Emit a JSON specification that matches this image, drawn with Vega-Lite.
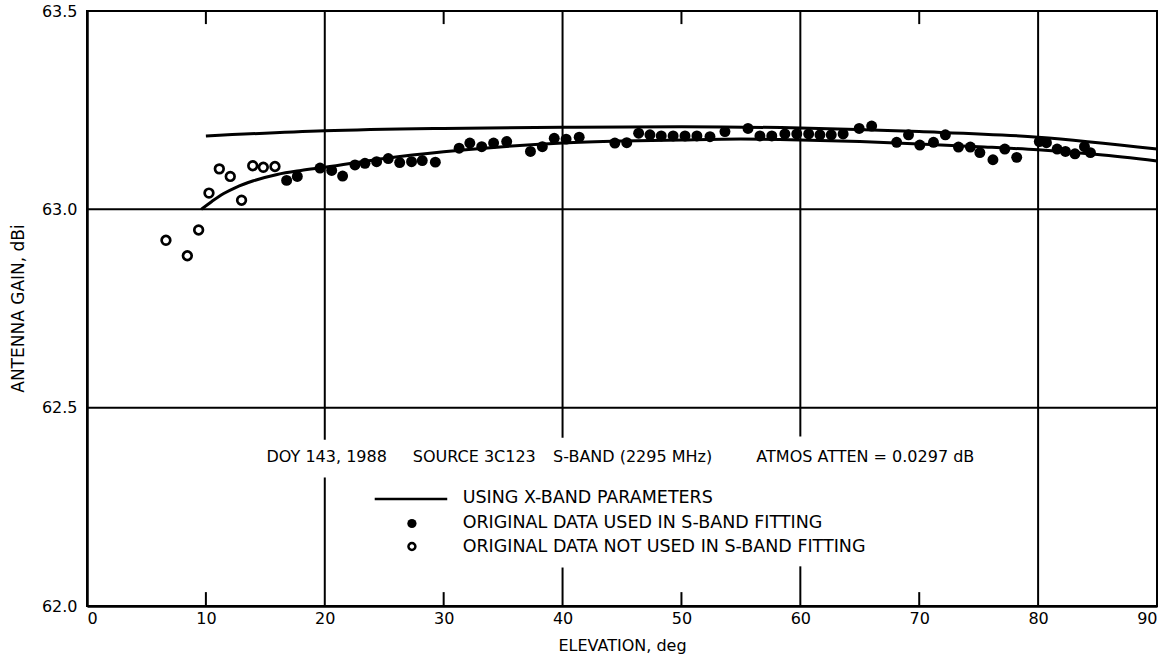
{
  "$schema": "https://vega.github.io/schema/vega-lite/v6.json",
  "autosize": {"type": "none"},
  "padding": {"left": 87, "top": 11, "right": 11, "bottom": 57},
  "width": 1070,
  "height": 595,
  "background": "white",
  "config": {
    "view": {"stroke": "black", "strokeWidth": 2},
    "font": "DejaVu Sans"
  },
  "datasets": {
    "obs": [
      {"elev": 6.64, "gain": 62.922, "set": "unused"},
      {"elev": 8.44, "gain": 62.883, "set": "unused"},
      {"elev": 9.39, "gain": 62.948, "set": "unused"},
      {"elev": 10.26, "gain": 63.041, "set": "unused"},
      {"elev": 11.13, "gain": 63.102, "set": "unused"},
      {"elev": 12.05, "gain": 63.083, "set": "unused"},
      {"elev": 13.0, "gain": 63.023, "set": "unused"},
      {"elev": 13.94, "gain": 63.11, "set": "unused"},
      {"elev": 14.83, "gain": 63.106, "set": "unused"},
      {"elev": 15.81, "gain": 63.108, "set": "unused"},
      {"elev": 16.79, "gain": 63.073, "set": "used"},
      {"elev": 17.69, "gain": 63.083, "set": "used"},
      {"elev": 19.6, "gain": 63.104, "set": "used"},
      {"elev": 20.58, "gain": 63.098, "set": "used"},
      {"elev": 21.5, "gain": 63.084, "set": "used"},
      {"elev": 22.54, "gain": 63.112, "set": "used"},
      {"elev": 23.38, "gain": 63.116, "set": "used"},
      {"elev": 24.36, "gain": 63.12, "set": "used"},
      {"elev": 25.34, "gain": 63.128, "set": "used"},
      {"elev": 26.3, "gain": 63.118, "set": "used"},
      {"elev": 27.3, "gain": 63.12, "set": "used"},
      {"elev": 28.2, "gain": 63.123, "set": "used"},
      {"elev": 29.3, "gain": 63.119, "set": "used"},
      {"elev": 31.3, "gain": 63.154, "set": "used"},
      {"elev": 32.2, "gain": 63.167, "set": "used"},
      {"elev": 33.2, "gain": 63.158, "set": "used"},
      {"elev": 34.2, "gain": 63.167, "set": "used"},
      {"elev": 35.3, "gain": 63.171, "set": "used"},
      {"elev": 37.3, "gain": 63.146, "set": "used"},
      {"elev": 38.3, "gain": 63.158, "set": "used"},
      {"elev": 39.3, "gain": 63.179, "set": "used"},
      {"elev": 40.3, "gain": 63.177, "set": "used"},
      {"elev": 41.4, "gain": 63.182, "set": "used"},
      {"elev": 44.4, "gain": 63.167, "set": "used"},
      {"elev": 45.4, "gain": 63.168, "set": "used"},
      {"elev": 46.4, "gain": 63.192, "set": "used"},
      {"elev": 47.35, "gain": 63.188, "set": "used"},
      {"elev": 48.3, "gain": 63.185, "set": "used"},
      {"elev": 49.3, "gain": 63.185, "set": "used"},
      {"elev": 50.3, "gain": 63.185, "set": "used"},
      {"elev": 51.3, "gain": 63.185, "set": "used"},
      {"elev": 52.4, "gain": 63.183, "set": "used"},
      {"elev": 53.66, "gain": 63.196, "set": "used"},
      {"elev": 55.6, "gain": 63.204, "set": "used"},
      {"elev": 56.6, "gain": 63.185, "set": "used"},
      {"elev": 57.6, "gain": 63.185, "set": "used"},
      {"elev": 58.7, "gain": 63.19, "set": "used"},
      {"elev": 59.7, "gain": 63.19, "set": "used"},
      {"elev": 60.7, "gain": 63.19, "set": "used"},
      {"elev": 61.65, "gain": 63.188, "set": "used"},
      {"elev": 62.6, "gain": 63.188, "set": "used"},
      {"elev": 63.6, "gain": 63.19, "set": "used"},
      {"elev": 64.95, "gain": 63.204, "set": "used"},
      {"elev": 66.0, "gain": 63.21, "set": "used"},
      {"elev": 68.1, "gain": 63.169, "set": "used"},
      {"elev": 69.1, "gain": 63.188, "set": "used"},
      {"elev": 70.05, "gain": 63.162, "set": "used"},
      {"elev": 71.2, "gain": 63.169, "set": "used"},
      {"elev": 72.2, "gain": 63.188, "set": "used"},
      {"elev": 73.3, "gain": 63.157, "set": "used"},
      {"elev": 74.3, "gain": 63.157, "set": "used"},
      {"elev": 75.1, "gain": 63.143, "set": "used"},
      {"elev": 76.2, "gain": 63.125, "set": "used"},
      {"elev": 77.2, "gain": 63.152, "set": "used"},
      {"elev": 78.2, "gain": 63.131, "set": "used"},
      {"elev": 80.1, "gain": 63.171, "set": "used"},
      {"elev": 80.7, "gain": 63.168, "set": "used"},
      {"elev": 81.6, "gain": 63.152, "set": "used"},
      {"elev": 82.3, "gain": 63.146, "set": "used"},
      {"elev": 83.1, "gain": 63.14, "set": "used"},
      {"elev": 83.9, "gain": 63.158, "set": "used"},
      {"elev": 84.4, "gain": 63.143, "set": "used"}
    ],
    "curves": [
      {"elev": 9.6, "gain": 63.0, "curve": "S-band fit"},
      {"elev": 10.5, "gain": 63.02, "curve": "S-band fit"},
      {"elev": 11.5, "gain": 63.04, "curve": "S-band fit"},
      {"elev": 12.5, "gain": 63.055, "curve": "S-band fit"},
      {"elev": 14, "gain": 63.072, "curve": "S-band fit"},
      {"elev": 16, "gain": 63.088, "curve": "S-band fit"},
      {"elev": 18, "gain": 63.098, "curve": "S-band fit"},
      {"elev": 20, "gain": 63.106, "curve": "S-band fit"},
      {"elev": 25, "gain": 63.128, "curve": "S-band fit"},
      {"elev": 30, "gain": 63.145, "curve": "S-band fit"},
      {"elev": 35, "gain": 63.158, "curve": "S-band fit"},
      {"elev": 40, "gain": 63.167, "curve": "S-band fit"},
      {"elev": 45, "gain": 63.172, "curve": "S-band fit"},
      {"elev": 50, "gain": 63.175, "curve": "S-band fit"},
      {"elev": 55, "gain": 63.177, "curve": "S-band fit"},
      {"elev": 60, "gain": 63.175, "curve": "S-band fit"},
      {"elev": 65, "gain": 63.171, "curve": "S-band fit"},
      {"elev": 70, "gain": 63.165, "curve": "S-band fit"},
      {"elev": 75, "gain": 63.158, "curve": "S-band fit"},
      {"elev": 80, "gain": 63.15, "curve": "S-band fit"},
      {"elev": 85, "gain": 63.138, "curve": "S-band fit"},
      {"elev": 90, "gain": 63.122, "curve": "S-band fit"},
      {"elev": 10, "gain": 63.185, "curve": "X-band parameters"},
      {"elev": 20, "gain": 63.198, "curve": "X-band parameters"},
      {"elev": 30, "gain": 63.204, "curve": "X-band parameters"},
      {"elev": 40, "gain": 63.207, "curve": "X-band parameters"},
      {"elev": 50, "gain": 63.208, "curve": "X-band parameters"},
      {"elev": 60, "gain": 63.205, "curve": "X-band parameters"},
      {"elev": 70, "gain": 63.196, "curve": "X-band parameters"},
      {"elev": 80, "gain": 63.182, "curve": "X-band parameters"},
      {"elev": 90, "gain": 63.152, "curve": "X-band parameters"}
    ],
    "vgrid": [
      {"x": 20, "y": 62.0, "y2": 62.324},
      {"x": 20, "y": 62.419, "y2": 63.5},
      {"x": 40, "y": 62.0, "y2": 62.097},
      {"x": 40, "y": 62.424, "y2": 63.5},
      {"x": 60, "y": 62.0, "y2": 62.1},
      {"x": 60, "y": 62.427, "y2": 63.5},
      {"x": 80, "y": 62.0, "y2": 63.5},
      {"x": 10, "y": 62.0, "y2": 62.035},
      {"x": 30, "y": 62.0, "y2": 62.035},
      {"x": 50, "y": 62.0, "y2": 62.035},
      {"x": 70, "y": 62.0, "y2": 62.035},
      {"x": 10, "y": 63.467, "y2": 63.5},
      {"x": 30, "y": 63.467, "y2": 63.5},
      {"x": 50, "y": 63.467, "y2": 63.5},
      {"x": 70, "y": 63.467, "y2": 63.5}
    ],
    "hgrid": [{"y": 63.0}, {"y": 62.5}],
    "notes": [
      {"x": 15.1, "y": 62.375, "text": "DOY 143, 1988"},
      {"x": 27.4, "y": 62.375, "text": "SOURCE 3C123"},
      {"x": 39.2, "y": 62.375, "text": "S-BAND (2295 MHz)"},
      {"x": 56.3, "y": 62.375, "text": "ATMOS ATTEN = 0.0297 dB"}
    ],
    "legtext": [
      {"x": 31.6, "y": 62.273, "text": "USING X-BAND PARAMETERS"},
      {"x": 31.6, "y": 62.208, "text": "ORIGINAL DATA USED IN S-BAND FITTING"},
      {"x": 31.6, "y": 62.15, "text": "ORIGINAL DATA NOT USED IN S-BAND FITTING"}
    ],
    "legline": [{"x": 24.2, "x2": 30.3, "y": 62.27}],
    "legpts": [
      {"x": 27.33, "y": 62.208, "set": "used"},
      {"x": 27.33, "y": 62.15, "set": "unused"}
    ]
  },
  "layer": [
    {
      "data": {"name": "hgrid"},
      "mark": {"type": "rule", "color": "black", "strokeWidth": 2},
      "encoding": {
        "y": {"field": "y", "type": "quantitative", "scale": {"domain": [62, 63.5], "nice": false, "zero": false},
          "axis": {"values": [62.0, 62.5, 63.0, 63.5], "format": ".1f", "ticks": false, "grid": false, "domain": true, "domainColor": "black", "domainWidth": 2.5,
            "labelFontSize": 16, "labelColor": "black", "labelPadding": 10, "labelFont": "DejaVu Sans",
            "title": "ANTENNA GAIN, dBi", "titleFontSize": 17, "titleFontWeight": "normal", "titleColor": "black", "titleFont": "DejaVu Sans",
            "titleX": -69, "titleY": 297, "titleAngle": -90, "titleAlign": "center", "titleBaseline": "middle"}}
      }
    },
    {
      "data": {"name": "vgrid"},
      "mark": {"type": "rule", "color": "black", "strokeWidth": 2},
      "encoding": {
        "x": {"field": "x", "type": "quantitative", "scale": {"domain": [0, 90], "nice": false},
          "axis": {"values": [0, 10, 20, 30, 40, 50, 60, 70, 80, 90], "ticks": false, "grid": false, "domain": true, "domainColor": "black", "domainWidth": 2.5,
            "labelFontSize": 16, "labelColor": "black", "labelPadding": 4, "labelFont": "DejaVu Sans",
            "title": "ELEVATION, deg", "titleFontSize": 16, "titleFontWeight": "normal", "titleColor": "black", "titleFont": "DejaVu Sans",
            "titleX": 535, "titleY": 39, "titleAlign": "center", "titleBaseline": "middle"}},
        "y": {"field": "y", "type": "quantitative"},
        "y2": {"field": "y2"}
      }
    },
    {
      "data": {"name": "curves"},
      "mark": {"type": "line", "color": "black", "strokeWidth": 3, "interpolate": "monotone"},
      "encoding": {
        "x": {"field": "elev", "type": "quantitative"},
        "y": {"field": "gain", "type": "quantitative"},
        "detail": {"field": "curve"}
      }
    },
    {
      "data": {"name": "obs"},
      "transform": [{"filter": "datum.set === 'used'"}],
      "mark": {"type": "point", "shape": "circle", "filled": true, "fill": "black", "opacity": 1, "size": 120},
      "encoding": {
        "x": {"field": "elev", "type": "quantitative"},
        "y": {"field": "gain", "type": "quantitative"}
      }
    },
    {
      "data": {"name": "obs"},
      "transform": [{"filter": "datum.set === 'unused'"}],
      "mark": {"type": "point", "shape": "circle", "filled": false, "stroke": "black", "fill": "white", "fillOpacity": 1, "strokeWidth": 2.7, "opacity": 1, "size": 75},
      "encoding": {
        "x": {"field": "elev", "type": "quantitative"},
        "y": {"field": "gain", "type": "quantitative"}
      }
    },
    {
      "data": {"name": "notes"},
      "mark": {"type": "text", "align": "left", "baseline": "middle", "font": "DejaVu Sans", "fontSize": 16, "color": "black"},
      "encoding": {
        "x": {"field": "x", "type": "quantitative"},
        "y": {"field": "y", "type": "quantitative"},
        "text": {"field": "text"}
      }
    },
    {
      "data": {"name": "legtext"},
      "mark": {"type": "text", "align": "left", "baseline": "middle", "font": "DejaVu Sans", "fontSize": 17.5, "color": "black"},
      "encoding": {
        "x": {"field": "x", "type": "quantitative"},
        "y": {"field": "y", "type": "quantitative"},
        "text": {"field": "text"}
      }
    },
    {
      "data": {"name": "legline"},
      "mark": {"type": "rule", "color": "black", "strokeWidth": 2.5},
      "encoding": {
        "x": {"field": "x", "type": "quantitative"},
        "x2": {"field": "x2"},
        "y": {"field": "y", "type": "quantitative"}
      }
    },
    {
      "data": {"name": "legpts"},
      "transform": [{"filter": "datum.set === 'used'"}],
      "mark": {"type": "point", "shape": "circle", "filled": true, "fill": "black", "opacity": 1, "size": 85},
      "encoding": {
        "x": {"field": "x", "type": "quantitative"},
        "y": {"field": "y", "type": "quantitative"}
      }
    },
    {
      "data": {"name": "legpts"},
      "transform": [{"filter": "datum.set === 'unused'"}],
      "mark": {"type": "point", "shape": "circle", "filled": false, "stroke": "black", "strokeWidth": 2.5, "opacity": 1, "size": 48},
      "encoding": {
        "x": {"field": "x", "type": "quantitative"},
        "y": {"field": "y", "type": "quantitative"}
      }
    }
  ]
}
